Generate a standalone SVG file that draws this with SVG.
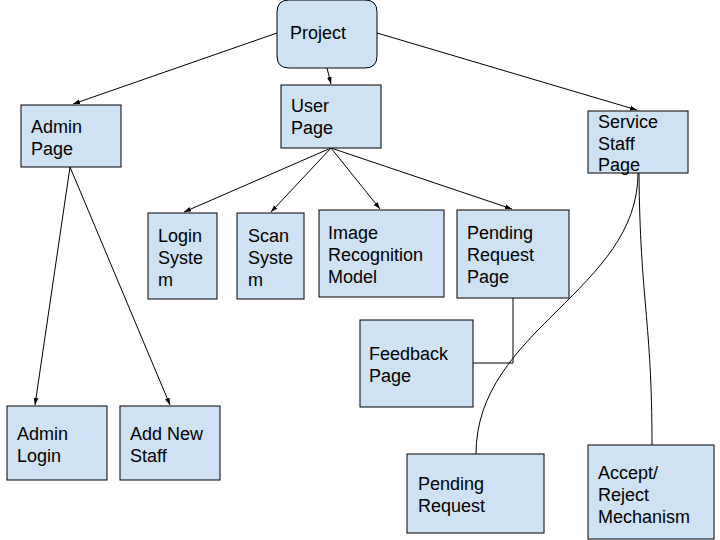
<svg xmlns="http://www.w3.org/2000/svg" width="720" height="540" viewBox="0 0 720 540">
<style>
.n{fill:#cfe2f3;stroke:#000;stroke-width:1}
.t{font-family:"Liberation Sans",Arial,sans-serif;font-size:18px;fill:#000}
.c{fill:none;stroke:#000;stroke-width:1}
</style>
<defs>
<marker id="a" viewBox="0 0 10 10" refX="10" refY="5" markerWidth="7" markerHeight="7" orient="auto" markerUnits="userSpaceOnUse">
<path d="M0,1.5 L10,5 L0,8.5 z" fill="#000"/>
</marker>
</defs>
<rect width="720" height="540" fill="#fff"/>
<g id="connectors">
<line class="c" x1="277" y1="33" x2="73" y2="104" marker-end="url(#a)"/>
<line class="c" x1="327" y1="68" x2="331" y2="84" marker-end="url(#a)"/>
<line class="c" x1="377" y1="33" x2="637" y2="110" marker-end="url(#a)"/>
<line class="c" x1="331" y1="148" x2="184" y2="212" marker-end="url(#a)"/>
<line class="c" x1="331" y1="148" x2="271" y2="212" marker-end="url(#a)"/>
<line class="c" x1="331" y1="148" x2="380" y2="209" marker-end="url(#a)"/>
<line class="c" x1="331" y1="148" x2="512" y2="209" marker-end="url(#a)"/>
<line class="c" x1="70" y1="167" x2="35" y2="405" marker-end="url(#a)"/>
<line class="c" x1="70" y1="167" x2="170" y2="405" marker-end="url(#a)"/>
<path class="c" d="M513,298 V363 H473"/>
<path class="c" d="M638,173 C638,290 476,330 476,454"/>
<path class="c" d="M639,173 C640,300 652,320 652,445"/>
</g>
<g id="project"><path class="n" d="M289,0 H365 Q377,0 377,12 V56 Q377,68 365,68 H289 Q277,68 277,56 V12 Q277,0 289,0 z"/><text class="t" x="290" y="39">Project</text></g>
<g id="user-page"><rect class="n" x="281" y="85" width="100" height="63"/><text class="t" x="291" y="112">User</text><text class="t" x="291" y="134">Page</text></g>
<g id="admin-page"><rect class="n" x="21" y="105" width="100" height="62"/><text class="t" x="31" y="133">Admin</text><text class="t" x="31" y="155">Page</text></g>
<g id="service-staff-page"><rect class="n" x="588" y="111" width="100" height="62"/><text class="t" x="598" y="128">Service</text><text class="t" x="598" y="150">Staff</text><text class="t" x="598" y="171">Page</text></g>
<g id="login-system"><rect class="n" x="148" y="213" width="69" height="86"/><text class="t" x="158" y="242">Login</text><text class="t" x="158" y="264">Syste</text><text class="t" x="158" y="286">m</text></g>
<g id="scan-system"><rect class="n" x="237" y="213" width="67" height="86"/><text class="t" x="248" y="242">Scan</text><text class="t" x="248" y="264">Syste</text><text class="t" x="248" y="286">m</text></g>
<g id="image-recognition"><rect class="n" x="319" y="210" width="125" height="87"/><text class="t" x="328" y="239">Image</text><text class="t" x="328" y="261">Recognition</text><text class="t" x="328" y="283">Model</text></g>
<g id="pending-request-page"><rect class="n" x="457" y="210" width="112" height="88"/><text class="t" x="467" y="239">Pending</text><text class="t" x="467" y="261">Request</text><text class="t" x="467" y="283">Page</text></g>
<g id="feedback-page"><rect class="n" x="360" y="320" width="113" height="87"/><text class="t" x="369" y="360">Feedback</text><text class="t" x="369" y="382">Page</text></g>
<g id="pending-request"><rect class="n" x="407" y="454" width="137" height="79"/><text class="t" x="418" y="490">Pending</text><text class="t" x="418" y="512">Request</text></g>
<g id="accept-reject"><rect class="n" x="588" y="445" width="126" height="94"/><text class="t" x="598" y="479">Accept/</text><text class="t" x="598" y="501">Reject</text><text class="t" x="598" y="523">Mechanism</text></g>
<g id="admin-login"><rect class="n" x="7" y="406" width="100" height="74"/><text class="t" x="17" y="440">Admin</text><text class="t" x="17" y="462">Login</text></g>
<g id="add-new-staff"><rect class="n" x="120" y="406" width="100" height="74"/><text class="t" x="130" y="440">Add New</text><text class="t" x="130" y="462">Staff</text></g>
</svg>
